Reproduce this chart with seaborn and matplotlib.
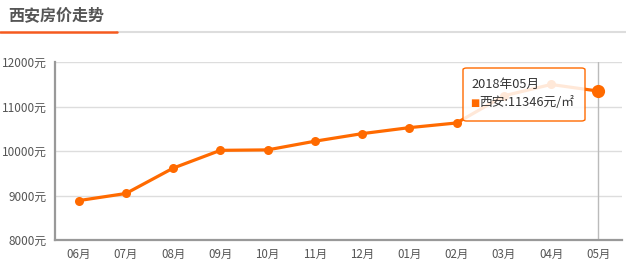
import matplotlib
matplotlib.use("Agg")
import matplotlib.pyplot as plt
import seaborn as sns
import pandas as pd
from matplotlib.patches import FancyBboxPatch
from matplotlib.lines import Line2D

months = ["06月", "07月", "08月", "09月", "10月", "11月", "12月", "01月", "02月", "03月", "04月", "05月"]
prices = [8885, 9045, 9615, 10015, 10025, 10220, 10390, 10525, 10630, 11240, 11495, 11346]
y_ticks = [8000, 9000, 10000, 11000, 12000]
y_labels = ["8000元", "9000元", "10000元", "11000元", "12000元"]
title = "西安房价走势"
tip_title = "2018年05月"
tip_text = "西安:11346元/㎡"

sns.set_theme(style="white")
plt.rcParams['font.family'] = ['Noto Sans CJK SC', 'DejaVu Sans']

W, H = 626, 275
fig = plt.figure(figsize=(W / 100, H / 100), dpi=100)
ax = fig.add_axes([55 / W, 1 - 240 / H, 567 / W, 178 / H])

df = pd.DataFrame({"month": months, "price": prices})
df["pos"] = range(len(months))
orange = "#ff6a00"

# crosshair
ax.axvline(len(months) - 1, color="#bbbbbb", lw=1, zorder=1)

sns.lineplot(data=df, x="pos", y="price", ax=ax, color=orange, lw=2.3,
             marker="o", markersize=6.5, markeredgewidth=0, zorder=3)
last = df.iloc[[-1]]
sns.scatterplot(data=last, x="pos", y="price", ax=ax, color=orange, s=90,
                linewidth=0, zorder=4)

ax.set_xlim(-0.5, len(months) - 0.5)
ax.set_ylim(8000, 12000)
ax.set_xticks(df["pos"])
ax.set_xticklabels(months)
ax.set_yticks(y_ticks)
ax.set_yticklabels(y_labels)
ax.set_xlabel("")
ax.set_ylabel("")
ax.grid(axis="y", color="#dddddd", lw=1)
ax.grid(axis="x", visible=False)
for s in ["top", "right"]:
    ax.spines[s].set_visible(False)
for s in ["left", "bottom"]:
    ax.spines[s].set_color("#999999")
    ax.spines[s].set_linewidth(1.6)
ax.tick_params(axis="y", length=0, pad=6, labelsize=8.5, labelcolor="#555555")
ax.tick_params(axis="x", length=4, width=0.8, color="#cccccc", pad=2,
               labelsize=8.3, labelcolor="#555555")

# tooltip
x0, y0 = 463 / W, 1 - 121 / H
bw, bh = (585 - 463) / W, (121 - 68) / H
box = FancyBboxPatch((x0, y0), bw, bh, boxstyle="round,pad=0,rounding_size=0.006",
                     transform=fig.transFigure, facecolor=(1, 1, 1, 0.85),
                     edgecolor=orange, lw=1.0, zorder=10)
fig.patches.append(box)
fig.text(471 / W, 1 - 84 / H, tip_title, fontsize=9.2, color="#333333",
         va="center", ha="left", zorder=11)
fig.text(470 / W, 1 - 103 / H, "■", fontsize=7, color=orange,
         va="center", ha="left", zorder=11, family=['DejaVu Sans'])
fig.text(479 / W, 1 - 103 / H, tip_text, fontsize=9.2, color="#333333",
         va="center", ha="left", zorder=11)

# header
fig.text(8 / W, 1 - 15 / H, title, fontsize=11.5, fontweight="bold",
         color="#555555", va="center", ha="left")
fig.add_artist(Line2D([117 / W, 1], [1 - 32 / H] * 2, color="#dddddd", lw=1.5,
                      transform=fig.transFigure))
fig.add_artist(Line2D([0, 117 / W], [1 - 32 / H] * 2, color="#f55a1f", lw=1.8,
                      transform=fig.transFigure))

fig.savefig("out.png", dpi=100)
